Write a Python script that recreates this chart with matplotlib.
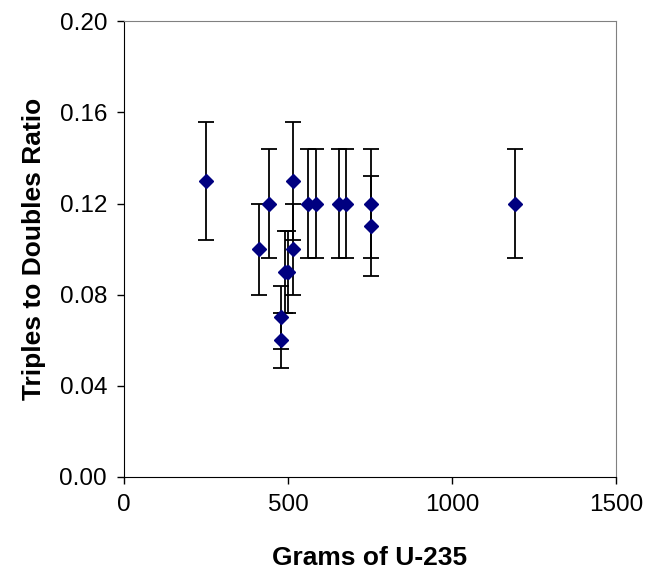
import numpy as np
import matplotlib
matplotlib.use("Agg")
import matplotlib.pyplot as plt

plt.rcParams["font.family"] = ["Liberation Sans", "DejaVu Sans"]

# grams of U-235, triples/doubles ratio and its uncertainty
grams = [250, 412, 442, 479, 479, 490, 500, 515, 515, 561, 585, 655, 677, 753, 753, 1192]
ratio = [0.13, 0.10, 0.12, 0.06, 0.07, 0.09, 0.09, 0.13, 0.10, 0.12, 0.12, 0.12, 0.12, 0.12, 0.11, 0.12]
err = [0.026, 0.020, 0.024, 0.012, 0.014, 0.018, 0.018, 0.026, 0.020, 0.024, 0.024, 0.024, 0.024, 0.024, 0.022, 0.024]

x_ticks = [0, 500, 1000, 1500]
y_ticks = [0.00, 0.04, 0.08, 0.12, 0.16, 0.20]

fig = plt.figure(figsize=(6.48, 5.74), dpi=100)
ax = fig.add_axes([0.191, 0.169, 0.760, 0.794])

ax.errorbar(grams, ratio, yerr=err, fmt="D", color="#000080", ms=7.5,
            ecolor="black", elinewidth=1.3, capsize=6, capthick=1.3, zorder=3)

ax.set_xlim(0, 1500)
ax.set_ylim(0, 0.20)
ax.set_xticks(x_ticks)
ax.set_yticks(y_ticks)
ax.set_yticklabels([f"{v:.2f}" for v in y_ticks])
ax.tick_params(direction="out", length=5, width=1, labelsize=17.5, pad=7)

for side in ["top", "right"]:
    ax.spines[side].set_color("#808080")
for side in ["left", "bottom"]:
    ax.spines[side].set_color("black")

ax.set_xlabel("Grams of U-235", fontsize=19, fontweight="bold", labelpad=22)
ax.set_ylabel("Triples to Doubles Ratio", fontsize=19, fontweight="bold", labelpad=10)

fig.savefig("out.png", dpi=100)
